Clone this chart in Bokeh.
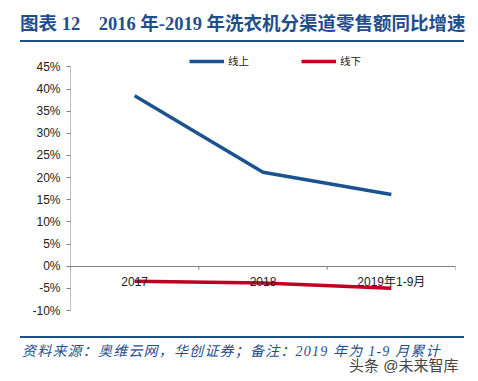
from bokeh.plotting import figure
from bokeh.layouts import column
from bokeh.models import (FactorRange, Range1d, FixedTicker, PrintfTickFormatter,
                          Legend, LegendItem, Div)
from bokeh.embed import file_html
from bokeh.resources import INLINE

categories = ["2017", "2018", "2019年1-9月"]
online = [38.5, 21.2, 16.2]
offline = [-3.4, -3.8, -5.0]
y_ticks = [-10, -5, 0, 5, 10, 15, 20, 25, 30, 35, 40, 45]
title_text = "图表 12    2016 年-2019 年洗衣机分渠道零售额同比增速"
source_text = "资料来源：奥维云网，华创证券；备注：2019 年为 1-9 月累计"
watermark_text = "头条 @未来智库"

BLUE = "#1B5391"
RED = "#C00020"
TITLE_BLUE = "#1F4E8C"
AXIS_GRAY = "#808080"
AXIS_FONT = "Liberation Sans, Noto Sans CJK SC"
SERIF = "'Liberation Serif', 'Noto Sans CJK SC'"
W = 472

# ---- title block (HTML)
top = Div(width=W, height=44, margin=(0, 0, 0, 0), text=(
    '<div style="position:relative;width:472px;height:44px;">'
    f'<div style="position:absolute;left:20px;top:13px;white-space:pre;font-family:{SERIF};'
    f'font-weight:bold;font-size:18.5px;line-height:22px;color:{TITLE_BLUE};">{title_text}</div>'
    f'<div style="position:absolute;left:20px;top:40px;width:444px;height:2px;background:{TITLE_BLUE};"></div>'
    '</div>'))

# ---- main chart
p = figure(width=W, height=290, x_range=FactorRange(*categories, range_padding=0),
           y_range=Range1d(-10, 47.8), output_backend="svg", toolbar_location=None,
           min_border_left=70, min_border_right=17, min_border_top=10, min_border_bottom=24)
p.outline_line_color = None
p.grid.grid_line_color = None

r1 = p.line(x=categories, y=online, line_color=BLUE, line_width=3.5)
r2 = p.line(x=categories, y=offline, line_color=RED, line_width=3.5)

ya = p.yaxis[0]
ya.ticker = FixedTicker(ticks=y_ticks)
ya.formatter = PrintfTickFormatter(format="%d%%")
ya.axis_line_color = None
ya.major_tick_line_color = AXIS_GRAY
ya.major_tick_in = 0
ya.major_tick_out = 4
ya.minor_tick_line_color = None
ya.major_label_text_font = AXIS_FONT
ya.major_label_text_font_size = "12px"
ya.major_label_text_color = "#222222"
ya.major_label_standoff = 6

# y axis line only from -10% to 45%
x_left = (categories[0], -0.5)
p.segment(x0=[x_left], x1=[x_left], y0=[y_ticks[0]], y1=[y_ticks[-1]],
          line_color=AXIS_GRAY, line_width=1)

xa = p.xaxis[0]
xa.fixed_location = 0
xa.axis_line_color = AXIS_GRAY
xa.major_tick_line_color = None
xa.minor_tick_line_color = None
xa.major_label_text_font = AXIS_FONT
xa.major_label_text_font_size = "12px"
xa.major_label_text_color = "#222222"
xa.major_label_standoff = 3

bx = [(categories[0], -0.5), (categories[0], 0.5), (categories[1], 0.5), (categories[2], 0.5)]
p.segment(x0=bx, x1=bx, y0=[0] * 4, y1=[-0.8] * 4, line_color=AXIS_GRAY, line_width=1)

legend = Legend(items=[LegendItem(label="线上", renderers=[r1]),
                       LegendItem(label="线下", renderers=[r2])],
                orientation="horizontal", location=(119, 242),
                padding=0, margin=0, spacing=52, glyph_width=35, glyph_height=10,
                label_height=10, label_standoff=4, label_text_font=AXIS_FONT,
                label_text_font_size="10.5px", label_text_color="#222222",
                border_line_color=None, background_fill_alpha=0)
p.add_layout(legend)

# ---- source block (HTML)
bot = Div(width=W, height=47, margin=(0, 0, 0, 0), text=(
    '<div style="position:relative;width:472px;height:47px;">'
    f'<div style="position:absolute;left:20px;top:2px;width:444px;height:2px;background:{TITLE_BLUE};"></div>'
    f'<div style="position:absolute;left:22px;top:9px;white-space:pre;font-family:{SERIF};'
    f'font-style:italic;font-size:14px;letter-spacing:1.2px;line-height:18px;color:{TITLE_BLUE};">{source_text}</div>'
    f'<div style="position:absolute;left:349px;top:23px;white-space:pre;font-family:Liberation Sans, Noto Sans CJK SC;'
    f'font-size:15px;line-height:18px;color:#444444;">{watermark_text}</div>'
    '</div>'))

layout = column(top, p, bot, spacing=0)
open("out.html", "w").write(file_html(layout, INLINE))
